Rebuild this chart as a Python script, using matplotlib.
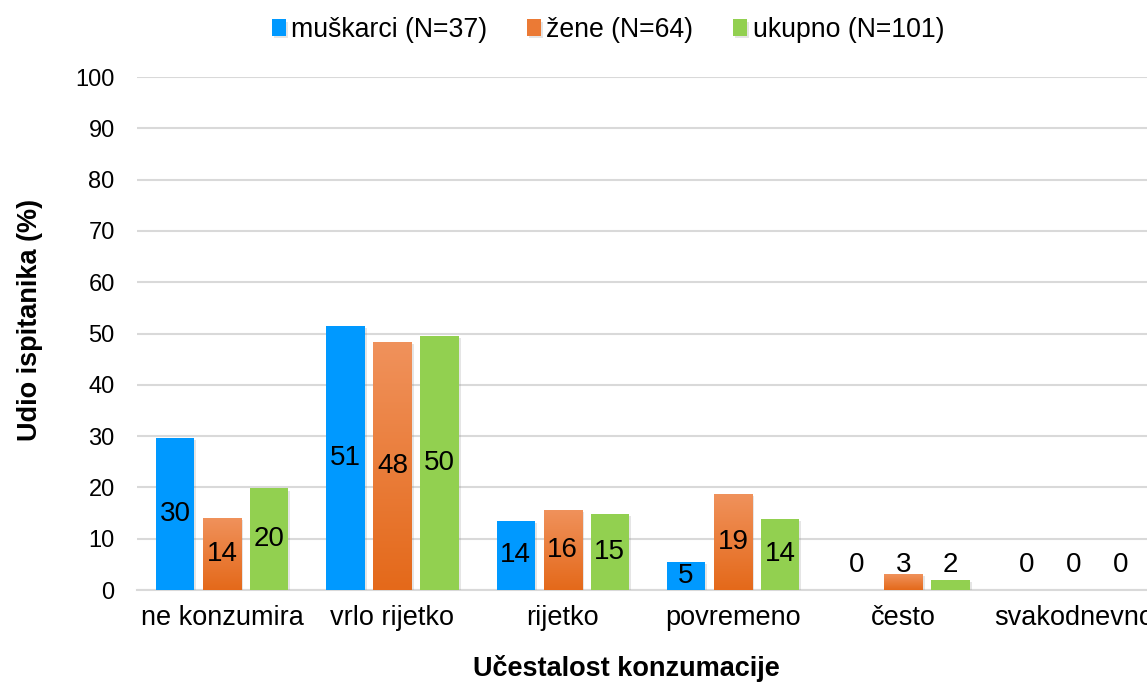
import numpy as np
import matplotlib.pyplot as plt
import matplotlib.patheffects as pe
from matplotlib.colors import LinearSegmentedColormap

plt.rcParams['font.family'] = ['Liberation Sans', 'DejaVu Sans']

# Data (percent of respondents)
categories = ['ne konzumira', 'vrlo rijetko', 'rijetko', 'povremeno', 'često', 'svakodnevno']
series_names = ['muškarci (N=37)', 'žene (N=64)', 'ukupno (N=101)']
men = [29.7, 51.4, 13.5, 5.4, 0.0, 0.0]
women = [14.1, 48.4, 15.6, 18.8, 3.1, 0.0]
total = [19.8, 49.5, 14.9, 13.9, 2.0, 0.0]
y_ticks = [0, 10, 20, 30, 40, 50, 60, 70, 80, 90, 100]

blue = '#0099FF'
green = '#92D050'
orange_cmap = LinearSegmentedColormap.from_list('orng', ['#E4691A', '#F0925C'])

fig = plt.figure(figsize=(11.47, 6.86), dpi=100)
ax = fig.add_axes([0.1194, 0.1399, 0.891, 0.7478])

x = np.arange(len(categories))
width = 0.226
step = 0.276
shadow = [pe.SimplePatchShadow(offset=(1.5, -1.5), shadow_rgbFace='gray', alpha=0.2), pe.Normal()]

bars_m = ax.bar(x - step, men, width, color=blue, label=series_names[0], zorder=3)
bars_w = ax.bar(x, women, width, color='#EB7A35', label=series_names[1], zorder=3)
bars_t = ax.bar(x + step, total, width, color=green, label=series_names[2], zorder=3)

for bars in (bars_m, bars_w, bars_t):
    for b in bars:
        if b.get_height() > 0:
            b.set_path_effects(shadow)
        else:
            b.set_visible(False)

# gradient fill on the orange bars
grad = np.linspace(0, 1, 256).reshape(-1, 1)
for b in bars_w:
    h = b.get_height()
    if h <= 0:
        continue
    x0 = b.get_x()
    im = ax.imshow(grad, extent=[x0, x0 + b.get_width(), 0, h], origin='lower',
                   cmap=orange_cmap, aspect='auto', zorder=3.5)
    im.set_clip_path(b)

# value labels
for bars, vals in ((bars_m, men), (bars_w, women), (bars_t, total)):
    for b, v in zip(bars, vals):
        y = v / 2 if v >= 4 else 4.9
        ax.text(b.get_x() + b.get_width() / 2, y, f'{v:.0f}', ha='center', va='center',
                fontsize=20, color='black', zorder=5)

ax.set_xlim(-0.5, len(categories) - 0.5)
ax.set_ylim(0, 100)
ax.set_yticks(y_ticks)
ax.set_xticks(x)
ax.set_xticklabels(categories)
ax.tick_params(axis='y', length=0, pad=16, labelsize=17)
ax.tick_params(axis='x', length=0, pad=11, labelsize=19.5)
ax.grid(axis='y', color='#D9D9D9', linewidth=1.5, zorder=0)
for s in ('top', 'right', 'left'):
    ax.spines[s].set_visible(False)
ax.spines['bottom'].set_color('#D9D9D9')
ax.spines['bottom'].set_linewidth(1.5)
ax.spines['bottom'].set_zorder(1)

fig.text(626 / 1147, 1 - 668 / 686, 'Učestalost konzumacije', ha='center', va='center',
         fontsize=19.5, fontweight='bold')
fig.text(30 / 1147, 1 - 320 / 686, 'Udio ispitanika (%)', ha='center', va='center',
         rotation=90, fontsize=19.5, fontweight='bold')

fig.legend(loc='center', bbox_to_anchor=(608 / 1147, 1 - 30 / 686), ncol=3, frameon=False,
           fontsize=19.2, handlelength=0.52, handleheight=0.56, handletextpad=0.2,
           columnspacing=1.5, borderaxespad=0)

plt.savefig('out.png', dpi=100)
